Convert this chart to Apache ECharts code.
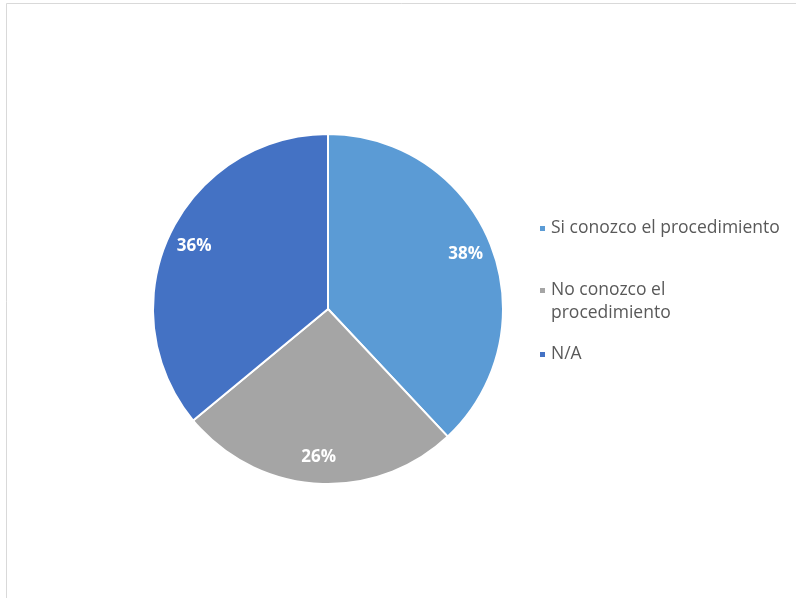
<!DOCTYPE html>
<html>
<head>
<meta charset="utf-8">
<script src="https://cdn.jsdelivr.net/npm/echarts@6/dist/echarts.min.js"></script>
<style>
  html, body { margin: 0; padding: 0; background: #ffffff; }
  #chart { width: 796px; height: 598px; }
</style>
</head>
<body>
<div id="chart"></div>
<script>
// Respuestas: conocimiento del procedimiento
const categories = ['Si conozco el procedimiento', 'No conozco el\nprocedimiento', 'N/A'];
const values = [38, 26, 36];
const colors = ['#5B9BD5', '#A5A5A5', '#4472C4'];

const pieData = categories.map((name, i) => ({
  name: name,
  value: values[i],
  itemStyle: { color: colors[i] }
}));

const legendFont = {
  fontFamily: 'Open Sans',
  fontSize: 17.5,
  color: '#595959',
  lineHeight: 23
};

// One legend block per entry so the uneven spacing of the list can be kept
const legendTops = [217, 256, 343];
const legends = categories.map((name, i) => ({
  orient: 'vertical',
  left: 538,
  top: legendTops[i],
  icon: 'rect',
  itemWidth: 7,
  itemHeight: 7,
  selectedMode: false,
  padding: 0,
  data: [name],
  // multi-line entries keep the marker beside their first line
  formatter: n => (n.indexOf('\n') >= 0 ? '\n' + n : n),
  textStyle: legendFont
}));

const chart = echarts.init(document.getElementById('chart'), null, { renderer: 'canvas' });
chart.setOption({
  backgroundColor: '#ffffff',
  animation: false,
  graphic: [{
    type: 'rect',
    shape: { x: 6.5, y: 3.5, width: 900, height: 700 },
    style: { fill: 'none', stroke: '#d9d9d9', lineWidth: 1 },
    silent: true
  }],
  legend: legends,
  series: [
    {
      type: 'pie',
      center: [328, 309],
      radius: [0, 175],
      startAngle: 90,
      clockwise: true,
      silent: true,
      itemStyle: { borderColor: '#ffffff', borderWidth: 2 },
      label: { show: false },
      labelLine: { show: false },
      data: pieData
    },
    {
      // transparent ring carrying the percentage labels near the rim
      type: 'pie',
      center: [328, 309],
      radius: [115, 175],
      startAngle: 90,
      clockwise: true,
      silent: true,
      itemStyle: { color: 'rgba(0,0,0,0)', borderWidth: 0 },
      label: {
        show: true,
        position: 'inside',
        formatter: p => p.value + '%',
        color: '#ffffff',
        fontFamily: 'Open Sans',
        fontWeight: 'bold',
        fontSize: 17
      },
      labelLine: { show: false },
      data: categories.map((name, i) => ({ name: name, value: values[i] }))
    }
  ]
});
</script>
</body>
</html>
